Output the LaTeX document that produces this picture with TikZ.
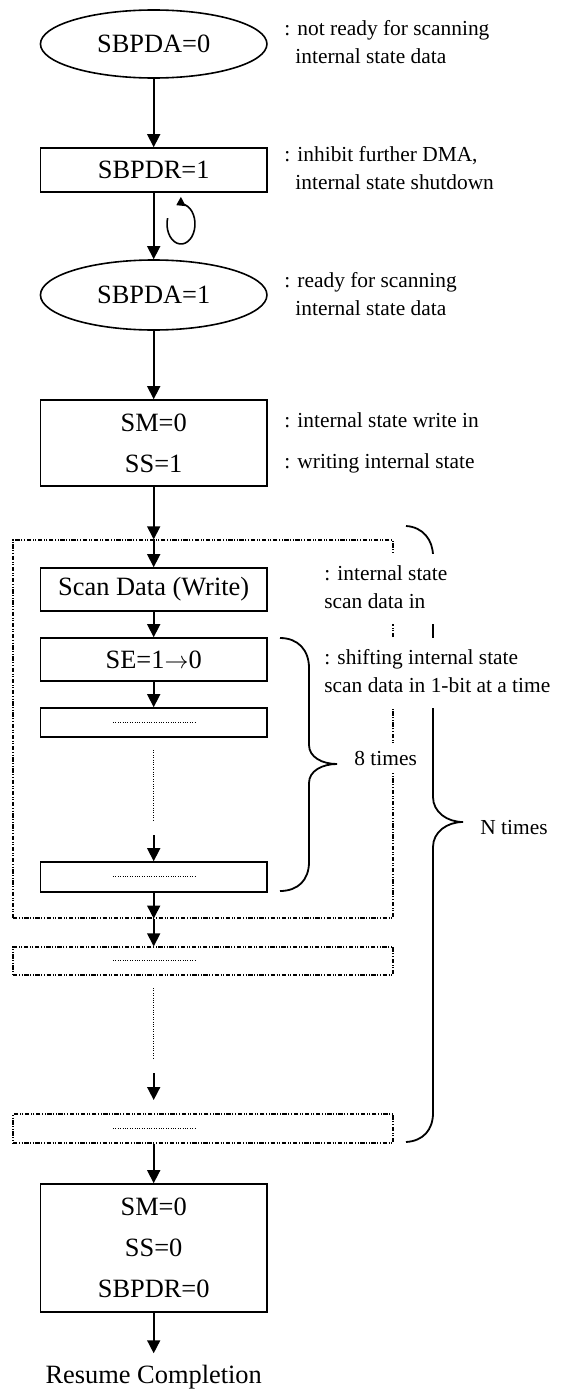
\documentclass[tikz,border=0pt]{standalone}
\usepackage{fontspec}
\setmainfont{Liberation Serif}
\usetikzlibrary{shapes.geometric,arrows.meta}

\begin{document}
\begin{tikzpicture}[x=0.5pt, y=0.5pt,
        every node/.style={font=\fontsize{13.2}{20.5}\selectfont},
        oval/.style={ellipse, draw, line width=0.8pt, minimum width=113.25pt, inner sep=0pt},
        stepbox/.style={draw, line width=0.8pt, minimum width=113.25pt, inner sep=0pt, align=center},
        dashbox/.style={draw, line width=0.6pt, dash pattern=on 2.2pt off 0.8pt on 0.5pt off 0.8pt on 0.5pt off 0.8pt, minimum width=190pt, inner sep=0pt},
        note/.style={anchor=west, fill=white, align=left, inner xsep=1pt, inner ysep=3.5pt, font=\fontsize{10.7}{14}\selectfont},
        flow/.style={line width=0.8pt, -{Triangle[length=6.5pt, width=6.5pt]}},
        dotline/.style={line width=0.4pt, dash pattern=on 0.4pt off 0.8pt},
        curly/.style={line width=0.9pt}]
        \useasboundingbox (0,0) rectangle (561,-1392);
        
        % not ready
        \node[oval, minimum height=34pt] (e0) at (153.7,-44) {SBPDA=0};
        \node[note] (l0) at (282,-43.5) {\strut: not ready for scanning\\\hspace*{5.5pt}internal state data\strut};
        
        % shutdown
        \node[stepbox, minimum height=22pt] (r1) at (153.7,-170) {SBPDR=1};
        \node[note] (l1) at (282,-170) {\strut: inhibit further DMA,\\\hspace*{5.5pt}internal state shutdown\strut};
        \draw[flow] (e0) -- (r1);
        
        % wait symbol
        \draw[line width=0.8pt, -{Triangle[length=4pt, width=5pt]}] (181,-224) ++(163:7pt and 10pt)
            arc [start angle = 163, end angle = 470, x radius = 7pt, y radius = 10pt];
        
        % ready
        \node[oval, minimum height=35pt] (e1) at (153.7,-295) {SBPDA=1};
        \node[note] (l2) at (282,-295.5) {\strut: ready for scanning\\\hspace*{5.5pt}internal state data\strut};
        \draw[flow] (r1) -- (e1);
        
        % write mode
        \node[stepbox, minimum height=43pt] (r2) at (153.7,-443) {SM=0\\SS=1};
        \node[note] (l3) at (282,-422) {\strut: internal state write in};
        \node[note] (l4) at (282,-463) {\strut: writing internal state};
        \draw[flow] (e1) -- (r2);
        
        % one pass, repeated N times
        \node[dashbox, minimum height=189pt] (loop) at (203,-729) {};
        \coordinate (top) at (r2.south |- loop.north);
        \draw[flow] (r2) -- (top);
        \node[stepbox, minimum height=21.5pt] (scan) at (153.7,-589.5) {Scan Data (Write)};
        \draw[flow] (top) -- (scan);
        \node[stepbox, minimum height=21.5pt] (se) at (153.7,-659.5) {SE=1$\rightarrow$0};
        \draw[flow] (scan) -- (se);
        \node[stepbox, minimum height=14.5pt] (s1) at (153.7,-722.5) {};
        \draw[flow] (se) -- (s1);
        \draw[dotline] (113,-722.5) -- (196,-722.5);
        \draw[dotline] (153.7,-750) -- (153.7,-820);
        \coordinate (c1) at (153.7,-835);
        \node[stepbox, minimum height=15pt] (s8) at (153.7,-877) {};
        \draw[flow] (c1) -- (s8);
        \draw[dotline] (113,-876.5) -- (196,-876.5);
        \coordinate (bot) at (s8.south |- loop.south);
        \draw[flow] (s8) -- (bot);
        
        % further passes
        \node[dashbox, minimum height=14pt] (p2) at (203,-961) {};
        \draw[flow] (bot) -- (bot |- p2.north);
        \draw[dotline] (113,-960.5) -- (196,-960.5);
        \draw[dotline] (153.7,-988) -- (153.7,-1058);
        \coordinate (c2) at (153.7,-1073);
        \coordinate (c3) at (153.7,-1100);
        \draw[flow] (c2) -- (c3);
        \node[dashbox, minimum height=14.5pt] (pn) at (203,-1128.5) {};
        \draw[dotline] (113,-1128.5) -- (196,-1128.5);
        
        % braces
        \draw[curly] (280,-638) .. controls (298,-638) and (309,-650) .. (309,-668) -- (309,-745)
            .. controls (309,-757) and (322,-764) .. (337,-764)
            .. controls (322,-764) and (309,-771) .. (309,-783) -- (309,-862)
            .. controls (309,-880) and (298,-891) .. (280,-891);
        \node[note] (t8) at (352,-758) {8 times};
        \draw[curly] (406,-526) .. controls (423,-527) and (433,-540) .. (433,-556) -- (433,-797)
            .. controls (433,-812) and (447,-822) .. (463,-822)
            .. controls (447,-822) and (433,-832) .. (433,-847) -- (433,-1113)
            .. controls (433,-1130) and (423,-1141) .. (406,-1142);
        \node[note] (tn) at (478,-828) {N times};
        
        % notes over the frame
        \node[note] (l5) at (322,-589) {\strut: internal state\\scan data in\strut};
        \node[note] (l6) at (322,-672.5) {\strut: shifting internal state\\scan data in 1-bit at a time\strut};
        
        % restore
        \node[stepbox, minimum height=64pt] (r3) at (153.7,-1248) {SM=0\\SS=0\\SBPDR=0};
        \draw[flow] (pn.south -| r3.north) -- (r3);
        \node[anchor=base, inner sep=5.5pt] (done) at (153.7,-1383) {Resume Completion};
        \draw[flow] (r3) -- (done);
    \end{tikzpicture}
\end{document}
